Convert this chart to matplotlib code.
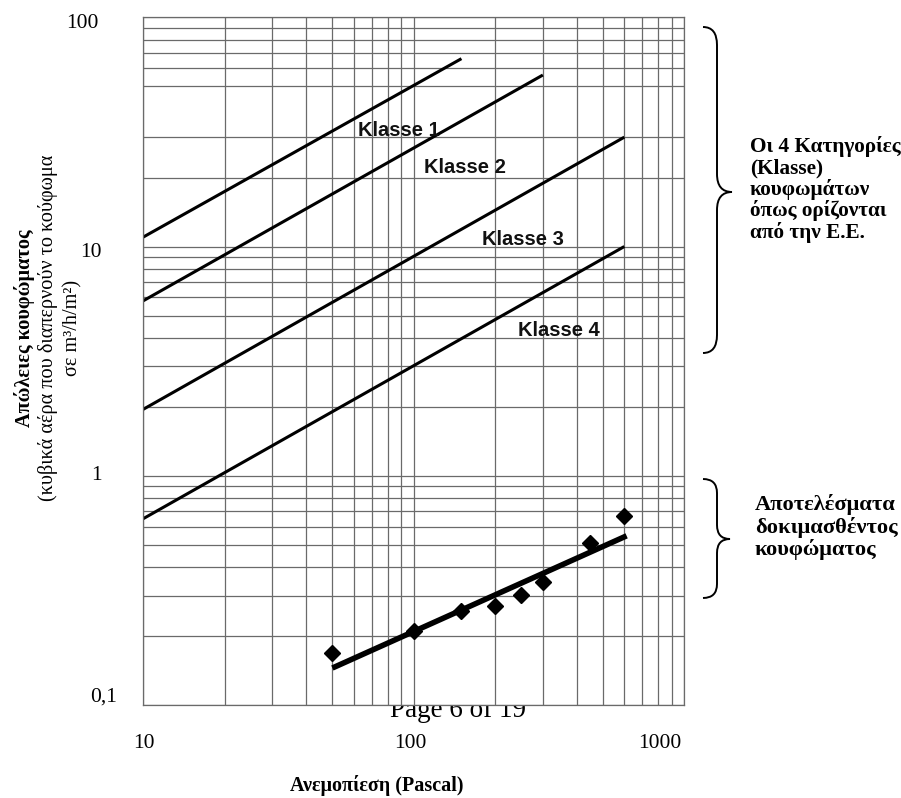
import numpy as np
import matplotlib
matplotlib.use("Agg")
import matplotlib.pyplot as plt
from matplotlib.path import Path
from matplotlib.patches import PathPatch

# ---------------------------------------------------------------------------
# Data
# ---------------------------------------------------------------------------
# Class limit lines (start / end points, straight on log-log)
KLASSE_NAMES = ["Klasse 1", "Klasse 2", "Klasse 3", "Klasse 4"]
KLASSE_X = [[10, 150], [10, 300], [10, 600], [10, 600]]
KLASSE_Y = [[11.0, 66.0], [5.8, 56.0], [1.95, 30.0], [0.65, 10.0]]
# label anchors (left / baseline), data coords
KLASSE_LBL_X = [62, 109, 179, 242]
KLASSE_LBL_Y = [30.5, 21.0, 10.2, 4.06]

# tested window
TEST_P = [50, 100, 150, 200, 250, 300, 450, 600]
TEST_Q = [0.168, 0.211, 0.256, 0.269, 0.302, 0.345, 0.508, 0.669]
FIT_P = [50, 612]
FIT_Q = [0.145, 0.547]

# grid (40 is missing in the original)
X_GRID = [10, 20, 30, 40, 50, 60, 70, 80, 90,
          100, 200, 300, 400, 500, 600, 700, 800, 900, 1000]
Y_GRID = [0.1, 0.2, 0.3, 0.4, 0.5, 0.6, 0.7, 0.8, 0.9,
          1, 2, 3, 4, 5, 6, 7, 8, 9,
          10, 20, 30, 50, 60, 70, 80, 90, 100]

Y_TICKS = [100, 10, 1, 0.1]
Y_TICKLABELS = ["100", "10", "1", "0,1"]
X_TICKS = [10, 100, 1000]
X_TICKLABELS = ["10", "100", "1000"]

W, H = 901, 798
GRID_C = "#6a6a6a"
SERIF = "Liberation Serif"
SANS = "Liberation Sans"


def fx(px):
    return px / W


def fy(py):
    return 1 - py / H


fig = plt.figure(figsize=(W / 100, H / 100), dpi=100)
ax = fig.add_axes([fx(143.3), fy(705), (684.3 - 143.3) / W, (705 - 17.3) / H])
ax.set_facecolor("white")
ax.set_xscale("log")
ax.set_yscale("log")
ax.set_xlim(10, 1000)
ax.set_ylim(0.1, 100)
ax.set_xticks(X_GRID)
ax.set_yticks(Y_GRID)
ax.xaxis.set_minor_locator(matplotlib.ticker.NullLocator())
ax.yaxis.set_minor_locator(matplotlib.ticker.NullLocator())
ax.tick_params(length=0, labelbottom=False, labelleft=False)
ax.grid(True, color=GRID_C, lw=0.9)
ax.set_axisbelow(True)
for s in ax.spines.values():
    s.set_color(GRID_C)
    s.set_linewidth(0.9)

# class lines
for xs, ys in zip(KLASSE_X, KLASSE_Y):
    ax.plot(xs, ys, color="black", lw=2.2, solid_capstyle="butt")
for name, lx, ly in zip(KLASSE_NAMES, KLASSE_LBL_X, KLASSE_LBL_Y):
    ax.text(lx, ly, name, family=SANS, weight="bold", fontsize=14.5,
            ha="left", va="baseline", color="#111111")

# test results
ax.plot(FIT_P, FIT_Q, color="black", lw=4.0, solid_capstyle="butt")
ax.plot(TEST_P, TEST_Q, "D", color="black", ms=8, mec="black")

# tick labels (positions are irregular in the original document)
y_off = [(-31.9, -7.7), (-29.7, -7.4), (-29.7, -2.9), (-18.9, 2.4)]
for v, t, (dx, dy) in zip(Y_TICKS, Y_TICKLABELS, y_off):
    ax.annotate(t, xy=(0, v), xycoords=("axes fraction", "data"),
                xytext=(dx, dy), textcoords="offset points",
                ha="right", va="baseline", family=SERIF, fontsize=15.5,
                annotation_clip=False)
x_off = [0.5, -2.4, -17.5]
for v, t, dx in zip(X_TICKS, X_TICKLABELS, x_off):
    ax.annotate(t, xy=(v, 0), xycoords=("data", "axes fraction"),
                xytext=(dx, -31), textcoords="offset points",
                ha="center", va="baseline", family=SERIF, fontsize=15.5,
                annotation_clip=False)

# page footer that sits behind the chart
fig.text(fx(390), fy(716.7), "Page 6 of 19", family=SERIF, fontsize=19.5,
         ha="left", va="baseline", zorder=-1)

# axis titles
ylab = [("Απώλειες κουφώματος", "bold", 30),
        ("(κυβικά αέρα που διαπερνούν το κούφωμα", "normal", 53),
        ("σε m³/h/m²)", "normal", 77)]
for txt, wt, bx in ylab:
    fig.text(fx(bx), fy(328), txt, rotation=90, rotation_mode="anchor",
             ha="center", va="baseline", family=SERIF, weight=wt, fontsize=14.6)
fig.text(fx(377), fy(791), "Ανεμοπίεση (Pascal)", family=SERIF, weight="bold",
         fontsize=14.5, ha="center", va="baseline")

# right-hand notes (va='baseline' anchors the last line)
fig.text(fx(750), fy(238), "Οι 4 Κατηγορίες\n(Klasse)\nκουφωμάτων\nόπως ορίζονται\nαπό την Ε.Ε.",
         family=SERIF, weight="bold", fontsize=15.3, ha="left", va="baseline",
         linespacing=1.04)
fig.text(fx(755), fy(555), "Αποτελέσματα\nδοκιμασθέντος\nκουφώματος",
         family=SERIF, weight="bold", fontsize=16.2, ha="left", va="baseline",
         linespacing=1.09)


def brace(x0, ytop, ymid, ybot, xs, xt, r=18):
    # curly brace in pixel coordinates, converted to figure fraction
    pts = [(x0, ytop), (xs, ytop), (xs, ytop + r),
           (xs, ymid - r), (xs, ymid), (xt, ymid),
           (xs, ymid), (xs, ymid + r),
           (xs, ybot - r), (xs, ybot), (x0, ybot)]
    codes = [Path.MOVETO, Path.CURVE3, Path.CURVE3,
             Path.LINETO, Path.CURVE3, Path.CURVE3,
             Path.CURVE3, Path.CURVE3,
             Path.LINETO, Path.CURVE3, Path.CURVE3]
    verts = [(fx(a), fy(b)) for a, b in pts]
    fig.add_artist(PathPatch(Path(verts, codes), fill=False, lw=1.4,
                             color="black", transform=fig.transFigure))


brace(703, 27, 192, 353, 717, 732)
brace(703, 479, 539, 598, 717, 730, r=14)

fig.savefig("out.png", dpi=100, facecolor="white")
